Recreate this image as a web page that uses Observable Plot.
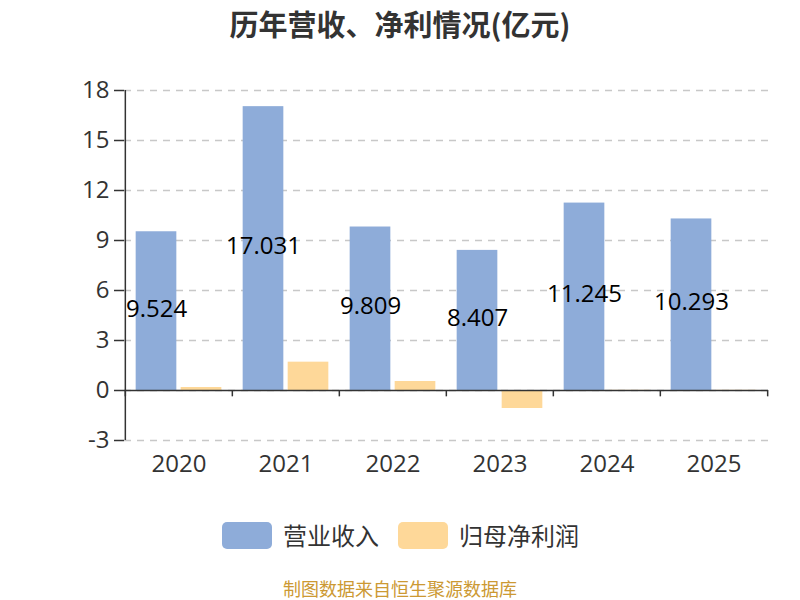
<!DOCTYPE html>
<html>
<head>
<meta charset="utf-8">
<script src="https://cdn.jsdelivr.net/npm/d3@7"></script>
<script src="https://cdn.jsdelivr.net/npm/@observablehq/plot@0.6"></script>
<style>
  html, body { margin: 0; padding: 0; background: #fff; }
  #wrap { position: relative; width: 800px; height: 600px; overflow: hidden; font-family: "Open Sans", "Noto Sans CJK SC", sans-serif; }
  #chart { position: absolute; left: 0; top: 0; }
  #title { position: absolute; left: 0; width: 800px; top: 3px; text-align: center; font-family: "Noto Sans CJK SC", sans-serif; font-weight: bold; font-size: 29px; line-height: 40px; color: #333; }
  #legend { position: absolute; left: 0; top: 520px; width: 800px; height: 32px; }
  .sw { position: absolute; width: 50px; height: 27px; border-radius: 5px; top: 2px; }
  .lt { position: absolute; top: -1px; font-family: "Noto Sans CJK SC", sans-serif; font-size: 24px; color: #333; line-height: 32px; }
  #caption { position: absolute; left: 0; width: 800px; top: 578px; text-align: center; font-family: "Noto Sans CJK SC", sans-serif; font-size: 18px; color: #cc9933; line-height: 20px; }
</style>
</head>
<body>
<div id="wrap">
  <div id="chart"></div>
  <div id="title">历年营收、净利情况(亿元)</div>
  <div id="legend"></div>
  <div id="caption">制图数据来自恒生聚源数据库</div>
</div>
<script>
const years = ["2020", "2021", "2022", "2023", "2024", "2025"];
const revenue = [9.524, 17.031, 9.809, 8.407, 11.245, 10.293];
const profit = [0.18, 1.70, 0.54, -1.08, 0.01, 0.01];
const yTicks = [-3, 0, 3, 6, 9, 12, 15, 18];
const seriesNames = ["营业收入", "归母净利润"];
const seriesColors = ["#8eacd9", "#fed899"];

const data = years.map((year, i) => ({year, revenue: revenue[i], profit: profit[i]}));

const W = 800, H = 500, ML = 124, MR = 32, MT = 90, MB = 60;
const step = (W - ML - MR) / years.length;
const barW = 41, gap = 4;
const outer = (step - 2 * barW - gap) / 2;

const chart = Plot.plot({
  width: W,
  height: H,
  marginLeft: ML,
  marginRight: MR,
  marginTop: MT,
  marginBottom: MB,
  style: {fontFamily: "'Open Sans', 'Noto Sans CJK SC', sans-serif", background: "transparent", fontSize: "24px"},
  x: {domain: years, padding: 0, label: null},
  y: {domain: [-3, 18], label: null},
  marks: [
    Plot.gridY(yTicks, {stroke: "#c8c8c8", strokeOpacity: 1, strokeWidth: 1.3, strokeDasharray: "7,6"}),
    Plot.barY(data, {x: "year", y: "revenue", fill: seriesColors[0], insetLeft: outer, insetRight: outer + barW + gap}),
    Plot.barY(data, {x: "year", y: "profit", fill: seriesColors[1], insetLeft: outer + barW + gap, insetRight: outer}),
    Plot.ruleY([0], {stroke: "#333", strokeWidth: 1.5}),
    Plot.ruleX(years, {x: d => d, y1: 0, y2: -0.38, dx: -step / 2, stroke: "#333", strokeWidth: 1.5}),
    Plot.ruleX([years[years.length - 1]], {x: d => d, y1: 0, y2: -0.38, dx: step / 2, stroke: "#333", strokeWidth: 1.5}),
    Plot.ruleX([years[0]], {x: d => d, y1: -3, y2: 18, dx: -step / 2, stroke: "#333", strokeWidth: 1.5}),
    Plot.axisY(yTicks, {tickSize: 10, tickPadding: 5, fontSize: 24, color: "#333", stroke: "#333", strokeWidth: 1.5, label: null, tickFormat: d => String(d)}),
    Plot.axisX({tickSize: 0, tickPadding: 14, fontSize: 24, color: "#333", label: null}),
    Plot.text(data, {x: "year", y: d => d.revenue / 2, text: d => String(d.revenue), dx: outer + barW / 2 - step / 2, dy: -2, fontSize: 24, fill: "#000"})
  ]
});
document.getElementById("chart").appendChild(chart);

const legend = document.getElementById("legend");
const legendX = [222, 398];
const legendTextX = [283, 459];
seriesNames.forEach((name, i) => {
  const sw = document.createElement("div");
  sw.className = "sw";
  sw.style.left = legendX[i] + "px";
  sw.style.background = seriesColors[i];
  legend.appendChild(sw);
  const t = document.createElement("div");
  t.className = "lt";
  t.style.left = legendTextX[i] + "px";
  t.textContent = name;
  legend.appendChild(t);
});
</script>
</body>
</html>
